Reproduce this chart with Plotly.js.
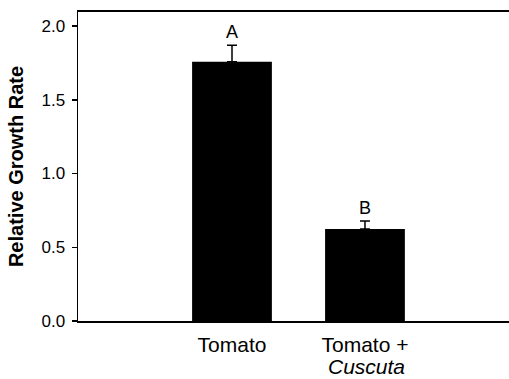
<!DOCTYPE html>
<html>
<head>
<meta charset="utf-8">
<script src="https://cdn.plot.ly/plotly-3.0.1.min.js"></script>
<style>html,body{margin:0;padding:0;background:#fff;}#chart{width:509px;height:379px;}</style>
</head>
<body>
<div id="chart"></div>
<script>
const categories = ["Tomato", "Tomato +"];
const categorySecondLine = ["", "Cuscuta"];
const growthRate = [1.757, 0.624];
const errorPlus = [0.113, 0.054];
const letters = ["A", "B"];
const yTickVals = [0.0, 0.5, 1.0, 1.5, 2.0];
const yTickText = ["0.0", "0.5", "1.0", "1.5", "2.0"];

const xs = categories.map((_, i) => i);
const font = "Liberation Sans, Arial, sans-serif";

const trace = {
  type: "bar",
  x: xs,
  y: growthRate,
  width: 0.6,
  marker: {color: "#000", line: {width: 0}},
  error_y: {
    type: "data", symmetric: false, array: errorPlus, arrayminus: errorPlus.map(() => 0),
    color: "#000", thickness: 1.5, width: 5
  },
  hoverinfo: "none"
};

const annotations = [];
xs.forEach((x, i) => {
  annotations.push({
    x: x, y: growthRate[i] + errorPlus[i], xref: "x", yref: "y",
    text: letters[i], showarrow: false, yanchor: "bottom", yshift: 1,
    font: {family: font, size: 18, color: "#000"}
  });
  if (categorySecondLine[i]) {
    annotations.push({
      x: x, y: 0, xref: "x", yref: "paper",
      text: "<i>" + categorySecondLine[i] + "</i>", showarrow: false,
      yanchor: "top", yshift: -32, xshift: 2,
      font: {family: font, size: 21, color: "#000"}
    });
  }
});

const layout = {
  width: 509, height: 379,
  margin: {l: 78, r: 0, t: 12, b: 58},
  paper_bgcolor: "#fff", plot_bgcolor: "#fff",
  showlegend: false,
  xaxis: {
    range: [-1.158, 2.083],
    tickvals: xs, ticktext: categories,
    showline: true, linecolor: "#000", linewidth: 2, mirror: true,
    ticks: "", showgrid: false, zeroline: false,
    tickfont: {family: font, size: 21, color: "#000"},
    ticklabelstandoff: 4
  },
  yaxis: {
    range: [0, 2.095],
    tickvals: yTickVals, ticktext: yTickText,
    showline: true, linecolor: "#000", linewidth: 1.5,
    ticks: "outside", ticklen: 5, tickwidth: 1.5, tickcolor: "#000",
    showgrid: false, zeroline: false,
    tickfont: {family: font, size: 17, color: "#000"},
    ticklabelstandoff: 3,
    title: {text: "<b>Relative Growth Rate</b>", font: {family: font, size: 20, color: "#000"}, standoff: 12}
  },
  annotations: annotations
};

Plotly.newPlot("chart", [trace], layout, {staticPlot: true, displayModeBar: false});
</script>
</body>
</html>
